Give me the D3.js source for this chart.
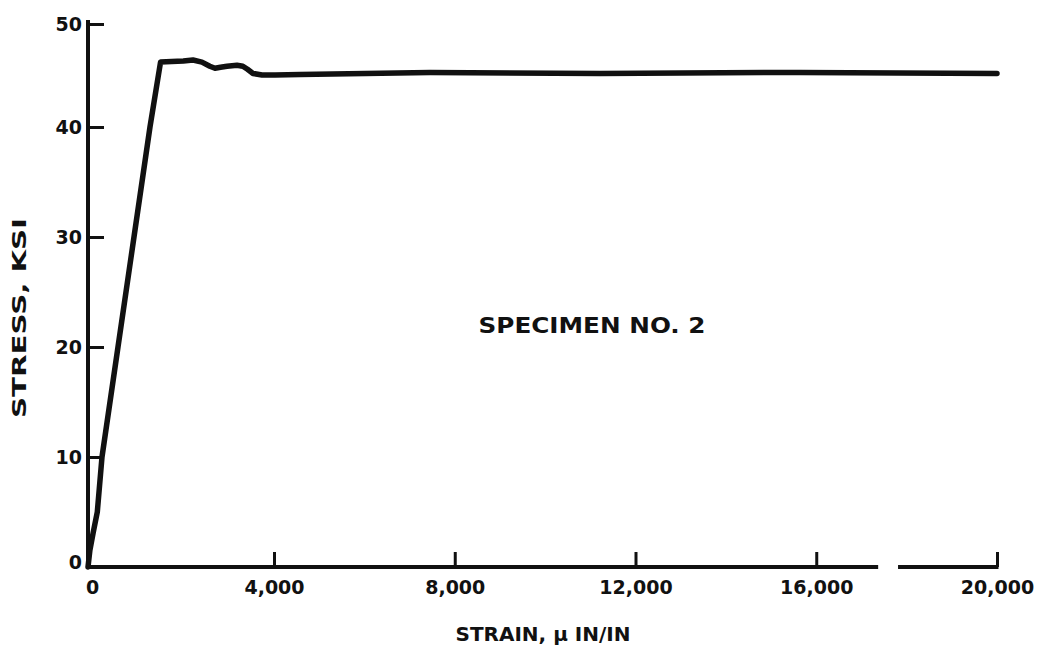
<!DOCTYPE html>
<html><head><meta charset="utf-8">
<script src="https://cdn.jsdelivr.net/npm/d3@7"></script>
<style>
html,body{margin:0;padding:0;background:#fff;}
text{font-family:"DejaVu Sans",sans-serif;font-weight:bold;fill:#111;}
</style></head>
<body>
<svg id="c" width="1038" height="647"></svg>
<script>
// data (strain in micro in/in, stress in ksi)
const strain = [0, 40, 110, 200, 301, 645, 989, 1333, 1560, 1800, 2050, 2258, 2450, 2620, 2731, 2850, 2990, 3204, 3330, 3430, 3548, 3742, 4022, 4575, 7452, 11214, 15640, 20000];
const stress = [0, 1.5, 3.1, 5.0, 10, 20, 30, 40, 46.3, 46.35, 46.4, 46.5, 46.3, 45.9, 45.7, 45.8, 45.9, 46.0, 45.9, 45.6, 45.2, 45.05, 45.05, 45.1, 45.3, 45.2, 45.3, 45.2];
const xTicks = [0, 4000, 8000, 12000, 16000, 20000];
const yTicks = [0, 10, 20, 30, 40, 50];
const axisBreak = [17370, 17810];
const title = "SPECIMEN NO. 2";
const xLabel = "STRAIN, \u03bc IN/IN";
const yLabel = "STRESS, KSI";

const svg = d3.select("#c");
const x = d3.scaleLinear().domain([0, 4000, 20000]).range([88, 274, 997]);
const y = d3.scaleLinear().domain([0, 40, 50]).range([567, 127, 24]);

// x axis
const xa = svg.append("g").attr("transform", `translate(0,${y(0)})`)
  .call(d3.axisBottom(x).tickValues(xTicks).tickSize(-15).tickPadding(14)
    .tickFormat(d3.format(",")));
xa.select(".domain").remove();
xa.selectAll(".tick line").attr("stroke", "#111").attr("stroke-width", 3)
  .filter(d => d === 0).remove();
xa.selectAll(".tick text").attr("font-size", 19).style("font-family", "DejaVu Sans").style("font-weight", "bold");
xa.selectAll(".tick").filter(d => d === 0).select("text").attr("dx", 4);

// y axis
const ya = svg.append("g").attr("transform", `translate(${x(0)},0)`)
  .call(d3.axisLeft(y).tickValues(yTicks).tickSize(-16).tickPadding(6));
ya.select(".domain").remove();
ya.selectAll(".tick line").attr("stroke", "#111").attr("stroke-width", 3)
  .filter(d => d === 0).remove();
ya.selectAll(".tick text").attr("font-size", 19).style("font-family", "DejaVu Sans").style("font-weight", "bold");
ya.selectAll(".tick").filter(d => d === 0).select("text").attr("dy", "0.1em");

// axis lines
svg.append("line").attr("x1", x(0)).attr("x2", x(0)).attr("y1", y(0) + 2).attr("y2", y(50) - 4)
  .attr("stroke", "#111").attr("stroke-width", 4);
svg.append("line").attr("x1", x(0) - 2).attr("x2", x(axisBreak[0])).attr("y1", y(0)).attr("y2", y(0))
  .attr("stroke", "#111").attr("stroke-width", 4);
svg.append("line").attr("x1", x(axisBreak[1])).attr("x2", x(20000) + 1.5).attr("y1", y(0)).attr("y2", y(0))
  .attr("stroke", "#111").attr("stroke-width", 4);

// curve
const pts = strain.map((s, i) => [s, stress[i]]);
svg.append("path").datum(pts)
  .attr("fill", "none").attr("stroke", "#111").attr("stroke-width", 5.5)
  .attr("stroke-linejoin", "round").attr("stroke-linecap", "round")
  .attr("d", d3.line().x(d => x(d[0])).y(d => y(d[1])).curve(d3.curveLinear));

// labels
svg.append("text").attr("x", 592).attr("y", 333).attr("text-anchor", "middle")
  .attr("font-size", 22).attr("textLength", 227).attr("lengthAdjust", "spacingAndGlyphs").text(title);
svg.append("text").attr("x", 543).attr("y", 641).attr("text-anchor", "middle")
  .attr("font-size", 20).text(xLabel);
svg.append("text").attr("transform", "translate(26,318) rotate(-90)").attr("text-anchor", "middle")
  .attr("font-size", 20).attr("textLength", 200).attr("lengthAdjust", "spacingAndGlyphs").text(yLabel);
</script>
</body></html>
